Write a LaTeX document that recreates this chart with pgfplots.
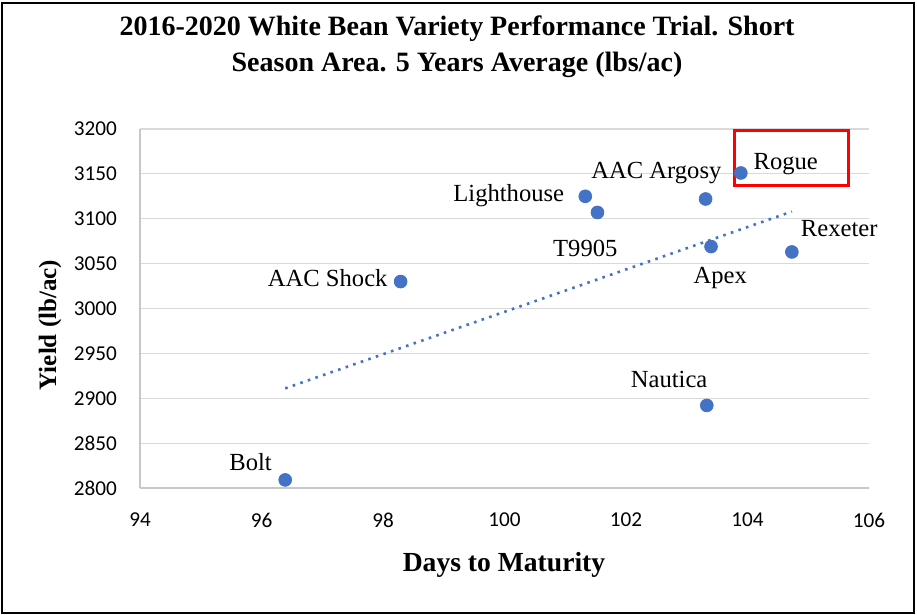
\documentclass[border=0pt]{standalone}
\usepackage{pgfplots}
\pgfplotsset{compat=1.18}
\usepackage{fontspec}
\setmainfont{Liberation Serif}
\newfontfamily\tickfont{Carlito}
\definecolor{xlblue}{HTML}{4472C4}
\definecolor{gridgray}{HTML}{D9D9D9}
\begin{document}
\begin{tikzpicture}
\useasboundingbox (0,0) rectangle (458.5pt,307.5pt);
\draw[black, line width=1pt] (0.8pt,0.8pt) rectangle (457.2pt,305.8pt);
\node[font=\bfseries\fontsize{14}{16}\selectfont, anchor=base] at (228.5pt,289.5pt) {2016-2020 White Bean Variety Performance Trial. Short};
\node[font=\bfseries\fontsize{14}{16}\selectfont, anchor=base] at (228.5pt,271.5pt) {Season Area. 5 Years Average (lbs/ac)};
\node[font=\bfseries\fontsize{12.5}{14}\selectfont, rotate=90, anchor=center] at (25pt,145pt) {Yield (lb/ac)};
\node[font=\bfseries\fontsize{13.8}{15}\selectfont, anchor=base] at (252pt,21.5pt) {Days to Maturity};
\begin{axis}[
  at={(70pt,63.5pt)}, anchor=south west,
  scale only axis, width=364.5pt, height=179.5pt,
  xmin=94, xmax=106, ymin=2800, ymax=3200,
  xtick={94,96,...,106}, ytick={2800,2850,...,3200},
  axis x line*=bottom, axis y line*=left,
  axis line style={draw=gridgray!80!gray, line width=0.6pt, -},
  ymajorgrids, grid style={draw=gridgray, line width=0.6pt},
  major tick length=0pt,
  tick label style={font=\tickfont\fontsize{10.6}{12}\selectfont},
  /pgf/number format/assume math mode=true,
  /pgf/number format/1000 sep={},
  xticklabel style={yshift=-9pt},
  yticklabel style={xshift=-8pt},
  clip=false,
]
\addplot[draw=xlblue, line width=1.3pt, dash pattern=on 1.3pt off 2.7pt] coordinates {(96.39,2911) (104.73,3108)};
\addplot[only marks, mark=*, mark size=3.2pt, mark options={draw=xlblue, fill=xlblue}] coordinates {
  (96.39,2809)
  (98.29,3030)
  (101.33,3125)
  (101.53,3107)
  (103.31,3122)
  (103.89,3151)
  (103.40,3069)
  (104.73,3063)
  (103.33,2892)
};
\begin{scope}[every node/.style={font=\fontsize{12.3}{14}\selectfont, anchor=base, inner sep=0pt}]
\node at (axis cs:95.82,2820) {Bolt};
\node at (axis cs:97.09,3024) {AAC Shock};
\node at (axis cs:100.07,3118.7) {Lighthouse};
\node at (axis cs:102.50,3144.3) {AAC Argosy};
\node at (axis cs:104.63,3155.4) {Rogue};
\node at (axis cs:101.33,3057.4) {T9905};
\node at (axis cs:103.55,3028.4) {Apex};
\node at (axis cs:105.51,3079.7) {Rexeter};
\node at (axis cs:102.71,2912.5) {Nautica};
\end{scope}
\draw[red, line width=1.5pt] (axis cs:103.78,3136.5) rectangle (axis cs:105.67,3197.8);
\end{axis}
\end{tikzpicture}
\end{document}
